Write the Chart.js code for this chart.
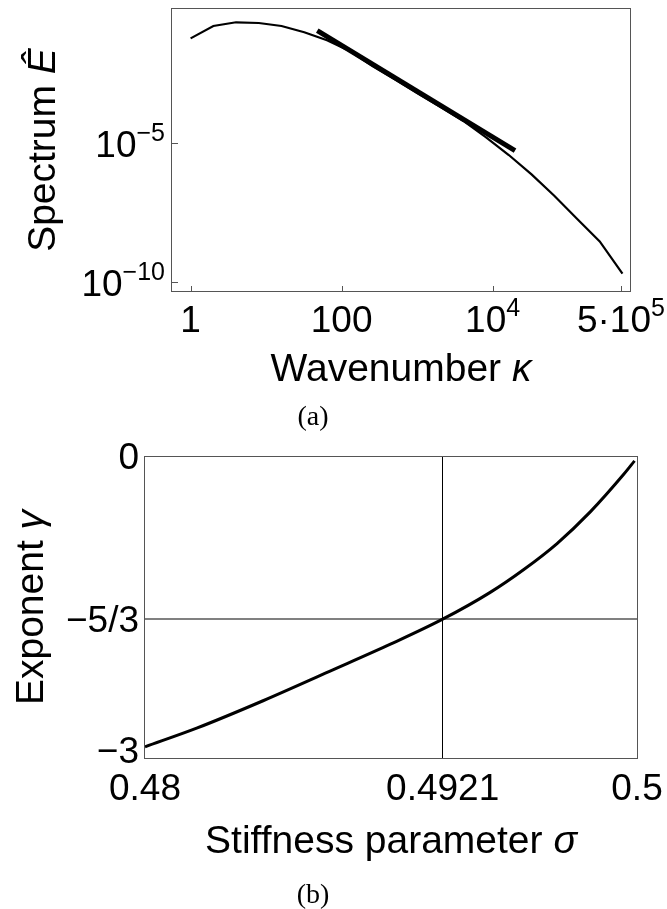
<!DOCTYPE html>
<html>
<head>
<meta charset="utf-8">
<script src="https://cdn.jsdelivr.net/npm/chart.js@4.4.0/dist/chart.umd.min.js"></script>
<style>
  body { margin: 0; background: #fff; }
  #page { position: relative; width: 667px; height: 909px; overflow: hidden; background: #fff; }
  canvas { position: absolute; left: 0; }
  #spectrumChart { top: 0; }
  #exponentChart { top: 440px; }
  .cap { position: absolute; font-family: "Liberation Serif", "DejaVu Serif", serif; font-size: 28px;
         color: #000; transform: translate(-50%, -50%); white-space: nowrap; }
</style>
</head>
<body>
<div id="page">
  <canvas id="spectrumChart" width="667" height="440"></canvas>
  <canvas id="exponentChart" width="667" height="469"></canvas>
  <div class="cap" style="left:313px;top:416px;">(a)</div>
  <div class="cap" style="left:313px;top:894px;">(b)</div>
</div>
<script>
// (a) spectrum
const kappa = [1, 2, 4, 8, 16, 32, 64, 128, 256, 512, 1024, 2048, 4096, 8192,
               16384, 32768, 65536, 131072, 262144, 524288];
const spectrum = [0.058, 0.162, 0.22, 0.207, 0.162, 0.096, 0.05, 0.0204, 0.0059, 0.0019,
                  6.0e-4, 1.95e-4, 6.2e-5, 1.6e-5, 3.7e-6, 7.4e-7, 1.26e-7, 1.9e-8, 2.9e-9, 2.0e-10];
// the -5/3 reference line
const fitKappa = [47.6, 19800];
const fitSpectrum = [0.11, 5.3e-6];

const kappaTicks = [1, 100, 1e4, 5e5];
const kappaTickLabels = [['1'], ['100'], ['10', '4'], ['5·10', '5']];
const spectrumTicks = [1e-5, 1e-10];
const spectrumTickLabels = [['10', '−5'], ['10', '−10']];

// (b) exponent vs stiffness
const sigma = [0.48, 0.4821, 0.4848, 0.4875, 0.49, 0.4921, 0.494, 0.4954, 0.49675, 0.4981, 0.49946, 0.4999];
const gamma = [-2.97, -2.78, -2.5, -2.2, -1.92, -1.667, -1.398, -1.159, -0.894, -0.571, -0.187, -0.05];

const sigmaTicks = [0.48, 0.4921, 0.5];
const sigmaTickLabels = ['0.48', '0.4921', '0.5'];
const gammaTicks = [-3, -5 / 3, 0];
const gammaTickLabels = ['−3', '−5/3', '0'];

const SANS = '"Liberation Sans", Arial, sans-serif';
const tickFont = '37px ' + SANS;
const supFont = '25px ' + SANS;
const titleFont = '39px ' + SANS;
const titleItalic = 'italic 39px ' + SANS;

// draws a run of text pieces with their own fonts
function drawRun(ctx, parts, x, y, align) {
  let w = 0;
  parts.forEach(p => { ctx.font = p.font; w += ctx.measureText(p.t).width; });
  let cx = align === 'center' ? x - w / 2 : (align === 'right' ? x - w : x);
  parts.forEach(p => {
    ctx.font = p.font;
    ctx.fillText(p.t, cx, y + (p.dy || 0));
    cx += ctx.measureText(p.t).width;
  });
}

function tickParts(lbl) {
  const parts = [{ t: lbl[0], font: tickFont }];
  if (lbl[1]) parts.push({ t: lbl[1], font: supFont, dy: -16 });
  return parts;
}

const frameAndLabels = {
  id: 'frameAndLabels',
  afterDraw(chart, args, opts) {
    const ctx = chart.ctx;
    const a = chart.chartArea;
    const xs = chart.scales.x, ys = chart.scales.y;
    ctx.save();
    ctx.textAlign = 'left';
    ctx.textBaseline = 'alphabetic';
    ctx.fillStyle = '#000';

    // frame
    ctx.strokeStyle = '#555';
    ctx.lineWidth = 1;
    ctx.strokeRect(Math.round(a.left) - 0.5, Math.round(a.top) + 0.5,
                   Math.round(a.right - a.left) + 1, Math.round(a.bottom - a.top) - 1);

    // inward tick marks
    if (opts.tickMarks) {
      ctx.beginPath();
      opts.xTicks.forEach(v => {
        const px = Math.round(xs.getPixelForValue(v)) + 0.5;
        ctx.moveTo(px, a.bottom); ctx.lineTo(px, a.bottom - 6);
      });
      opts.yTicks.forEach(v => {
        const py = Math.round(ys.getPixelForValue(v)) + 0.5;
        ctx.moveTo(a.left, py); ctx.lineTo(a.left + 6, py);
      });
      ctx.stroke();
    }

    // tick labels
    opts.xTicks.forEach((v, i) => {
      drawRun(ctx, opts.xLabels[i], xs.getPixelForValue(v), a.bottom + opts.xLabelGap, 'center');
    });
    opts.yTicks.forEach((v, i) => {
      drawRun(ctx, opts.yLabels[i], a.left - opts.yLabelGap, ys.getPixelForValue(v) + opts.yLabelShift, 'right');
    });

    // axis titles
    drawRun(ctx, opts.xTitle, (a.left + a.right) / 2, a.bottom + opts.xTitleGap, 'center');
    ctx.translate(opts.yTitleX, (a.top + a.bottom) / 2);
    ctx.rotate(-Math.PI / 2);
    drawRun(ctx, opts.yTitle, 0, 0, 'center');
    ctx.restore();
  }
};

function zeroWidth(s) { s.width = 0; }
function zeroHeight(s) { s.height = 0; }

new Chart(document.getElementById('spectrumChart'), {
  type: 'scatter',
  data: {
    datasets: [
      {
        data: kappa.map((k, i) => ({ x: k, y: spectrum[i] })),
        showLine: true, borderColor: '#000', borderWidth: 2.2, pointRadius: 0, tension: 0
      },
      {
        data: fitKappa.map((k, i) => ({ x: k, y: fitSpectrum[i] })),
        showLine: true, borderColor: '#000', borderWidth: 5, pointRadius: 0, borderCapStyle: 'butt'
      }
    ]
  },
  options: {
    responsive: false,
    animation: false,
    events: [],
    layout: { padding: { left: 172, right: 37, top: 8, bottom: 148 } },
    scales: {
      x: {
        type: 'logarithmic', min: 0.567, max: 6.6e5,
        ticks: { display: false }, grid: { display: false }, border: { display: false },
        afterFit: zeroHeight
      },
      y: {
        type: 'logarithmic', min: 4.37e-11, max: 0.718,
        ticks: { display: false }, grid: { display: false }, border: { display: false },
        afterFit: zeroWidth
      }
    },
    plugins: {
      legend: { display: false },
      tooltip: { enabled: false },
      frameAndLabels: {
        tickMarks: true,
        xTicks: kappaTicks,
        xLabels: kappaTickLabels.map(tickParts),
        yTicks: spectrumTicks,
        yLabels: spectrumTickLabels.map(tickParts),
        xLabelGap: 40,
        yLabelGap: 7,
        yLabelShift: 14,
        xTitle: [{ t: 'Wavenumber ', font: titleFont }, { t: 'κ', font: titleItalic }],
        xTitleGap: 89,
        yTitle: [{ t: 'Spectrum ', font: titleFont }, { t: 'Ê', font: titleItalic }],
        yTitleX: 55
      }
    }
  },
  plugins: [frameAndLabels]
});

new Chart(document.getElementById('exponentChart'), {
  type: 'scatter',
  data: {
    datasets: [{
      data: sigma.map((s, i) => ({ x: s, y: gamma[i] })),
      showLine: true, borderColor: '#000', borderWidth: 3, pointRadius: 0,
      cubicInterpolationMode: 'monotone'
    }]
  },
  options: {
    responsive: false,
    animation: false,
    events: [],
    layout: { padding: { left: 145, right: 30, top: 16, bottom: 150 } },
    scales: {
      x: {
        type: 'linear', min: 0.48, max: 0.5,
        afterBuildTicks: s => { s.ticks = sigmaTicks.map(v => ({ value: v })); },
        ticks: { display: false },
        grid: {
          drawTicks: false, lineWidth: 1,
          color: c => (c.tick && Math.abs(c.tick.value - 0.4921) < 1e-6) ? '#000' : 'rgba(0,0,0,0)'
        },
        border: { display: false },
        afterFit: zeroHeight
      },
      y: {
        type: 'linear', min: -3.095, max: 0,
        afterBuildTicks: s => { s.ticks = gammaTicks.map(v => ({ value: v })); },
        ticks: { display: false },
        grid: {
          drawTicks: false, lineWidth: 2,
          color: c => (c.tick && Math.abs(c.tick.value + 5 / 3) < 1e-6) ? '#808080' : 'rgba(0,0,0,0)'
        },
        border: { display: false },
        afterFit: zeroWidth
      }
    },
    plugins: {
      legend: { display: false },
      tooltip: { enabled: false },
      frameAndLabels: {
        tickMarks: false,
        xTicks: sigmaTicks,
        xLabels: sigmaTickLabels.map(t => [{ t: t, font: tickFont }]),
        yTicks: gammaTicks,
        yLabels: gammaTickLabels.map(t => [{ t: t, font: tickFont }]),
        xLabelGap: 41,
        yLabelGap: 6,
        yLabelShift: 13,
        xTitle: [{ t: 'Stiffness parameter ', font: titleFont }, { t: 'σ', font: titleItalic }],
        xTitleGap: 94,
        yTitle: [{ t: 'Exponent ', font: titleFont }, { t: 'γ', font: titleItalic }],
        yTitleX: 43
      }
    }
  },
  plugins: [frameAndLabels]
});
</script>
</body>
</html>
